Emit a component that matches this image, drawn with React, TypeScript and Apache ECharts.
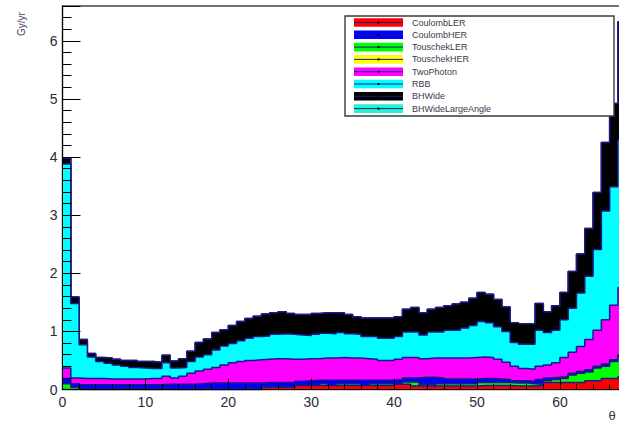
import React, { useEffect, useRef } from "react";
import * as echarts from "echarts";

// Bin edges in degrees (1-degree bins starting at 0)
const binEdges = [
  0, 1, 2, 3, 4, 5, 6, 7, 8, 9, 10, 11, 12, 13, 14, 15, 16, 17, 18, 19, 20, 21, 22, 23, 24, 25, 26, 27, 28, 29,
  30, 31, 32, 33, 34, 35, 36, 37, 38, 39, 40, 41, 42, 43, 44, 45, 46, 47, 48, 49, 50, 51, 52, 53, 54, 55, 56, 57,
  58, 59, 60, 61, 62, 63, 64, 65, 66, 67, 68,
];

const coulombLER = [
  0, 0, 0, 0, 0, 0, 0, 0, 0, 0, 0, 0, 0, 0, 0, 0, 0, 0, 0, 0, 0, 0, 0, 0, 0.04, 0.04, 0.04, 0.04, 0.07, 0.07,
  0.07, 0.07, 0.07, 0.07, 0.07, 0.07, 0.07, 0.07, 0.07, 0.07, 0.09, 0.09, 0.06, 0.06, 0.06, 0.06, 0.06, 0.06, 0.06, 0.06,
  0.07, 0.07, 0.07, 0.07, 0.06, 0.06, 0.06, 0.07, 0.12, 0.12, 0.12, 0.12, 0.12, 0.15, 0.15, 0.19, 0.19, 0.22,
];
const touschekLER = [
  0.1, 0.04, 0, 0, 0, 0, 0, 0, 0, 0, 0, 0, 0, 0, 0, 0, 0, 0, 0, 0, 0, 0, 0, 0, 0, 0, 0, 0, 0, 0,
  0, 0, 0, 0.03, 0.03, 0.03, 0, 0.03, 0.03, 0.03, 0, 0.04, 0.07, 0, 0, 0.04, 0.04, 0.04, 0.04, 0.04,
  0.05, 0.05, 0.05, 0.05, 0.05, 0.05, 0.04, 0.02, 0.03, 0.05, 0.07, 0.13, 0.16, 0.15, 0.22, 0.21, 0.29, 0.34,
];
const touschekHER = [
  0, 0, 0.02, 0, 0, 0, 0, 0.02, 0.02, 0.02, 0, 0, 0.02, 0, 0, 0, 0, 0.02, 0, 0, 0, 0, 0.02, 0, 0, 0, 0, 0, 0, 0,
  0, 0.03, 0, 0, 0, 0, 0, 0, 0, 0, 0, 0, 0, 0.03, 0.03, 0, 0, 0, 0, 0,
  0, 0, 0, 0, 0, 0, 0, 0, 0, 0, 0, 0, 0, 0, 0, 0, 0, 0,
];
const coulombHER = [
  0.09, 0.06, 0.06, 0.08, 0.08, 0.08, 0.08, 0.06, 0.06, 0.06, 0.08, 0.08, 0.07, 0.09, 0.09, 0.09, 0.1, 0.09, 0.11, 0.11,
  0.11, 0.11, 0.09, 0.11, 0.08, 0.08, 0.08, 0.08, 0.07, 0.08, 0.09, 0.06, 0.09, 0.06, 0.06, 0.06, 0.09, 0.06, 0.06, 0.06,
  0.08, 0.07, 0.07, 0.12, 0.12, 0.1, 0.08, 0.08, 0.08, 0.08, 0.07, 0.07, 0.06, 0.05, 0.04, 0.04, 0.04, 0.08, 0.05, 0.04,
  0.03, 0.03, 0.03, 0.04, 0.03, 0.04, 0.03, 0.04,
];
const twoPhoton = [
  0.18, 0.1, 0.11, 0.11, 0.11, 0.1, 0.1, 0.1, 0.1, 0.1, 0.11, 0.11, 0.14, 0.11, 0.14, 0.19, 0.22, 0.24, 0.27, 0.31,
  0.35, 0.37, 0.39, 0.4, 0.4, 0.41, 0.41, 0.4, 0.38, 0.38, 0.37, 0.38, 0.38, 0.39, 0.38, 0.38, 0.37, 0.36, 0.34, 0.34,
  0.35, 0.35, 0.35, 0.32, 0.33, 0.34, 0.36, 0.36, 0.36, 0.37, 0.37, 0.36, 0.34, 0.3, 0.25, 0.21, 0.21, 0.23, 0.22, 0.25,
  0.33, 0.36, 0.43, 0.52, 0.62, 0.76, 0.94, 1.15,
];
const rbb = [
  3.51, 1.28, 0.58, 0.37, 0.29, 0.27, 0.24, 0.22, 0.2, 0.19, 0.17, 0.17, 0.23, 0.17, 0.15, 0.2, 0.24, 0.25, 0.3, 0.33,
  0.33, 0.36, 0.38, 0.4, 0.4, 0.42, 0.43, 0.43, 0.42, 0.4, 0.42, 0.43, 0.42, 0.43, 0.42, 0.41, 0.38, 0.39, 0.38, 0.38,
  0.39, 0.44, 0.44, 0.41, 0.45, 0.45, 0.48, 0.48, 0.52, 0.55, 0.61, 0.6, 0.56, 0.53, 0.41, 0.42, 0.43, 0.62, 0.56, 0.56,
  0.65, 0.76, 0.92, 1.09, 1.39, 1.87, 2.04, 2.55,
];
const bhWide = [
  0.1, 0.11, 0.09, 0.06, 0.07, 0.09, 0.1, 0.1, 0.12, 0.11, 0.12, 0.11, 0.13, 0.12, 0.15, 0.18, 0.25, 0.27, 0.3, 0.28,
  0.31, 0.33, 0.34, 0.35, 0.38, 0.37, 0.38, 0.36, 0.35, 0.36, 0.36, 0.35, 0.36, 0.34, 0.33, 0.3, 0.32, 0.32, 0.35, 0.35,
  0.34, 0.39, 0.42, 0.38, 0.39, 0.42, 0.42, 0.45, 0.44, 0.47, 0.5, 0.49, 0.47, 0.42, 0.34, 0.35, 0.35, 0.46, 0.36, 0.42,
  0.47, 0.63, 0.67, 0.82, 0.98, 1.18, 1.43, 2.03,
];
const bhWideLargeAngle = [
  0, 0, 0, 0, 0, 0, 0, 0, 0, 0, 0, 0, 0, 0, 0, 0, 0, 0, 0, 0, 0, 0, 0, 0, 0, 0, 0, 0, 0, 0,
  0, 0, 0, 0, 0, 0, 0, 0, 0, 0, 0, 0, 0, 0, 0, 0, 0, 0, 0, 0,
  0, 0, 0, 0, 0, 0, 0, 0, 0, 0, 0, 0, 0, 0, 0, 0, 0, 0,
];

// Legend order (as in the reference)
const legendNames = ["CoulombLER", "CoulombHER", "TouschekLER", "TouschekHER", "TwoPhoton", "RBB", "BHWide", "BHWideLargeAngle"];
const legendColors = ["#ff0000", "#0000ff", "#00ff00", "#ffff00", "#ff00ff", "#00ffff", "#000000", "#22f5d2"];

// Stacking order, bottom to top
const stackNames = ["CoulombLER", "TouschekLER", "TouschekHER", "CoulombHER", "TwoPhoton", "RBB", "BHWide", "BHWideLargeAngle"];
const stackValues = [coulombLER, touschekLER, touschekHER, coulombHER, twoPhoton, rbb, bhWide, bhWideLargeAngle];

const OUTLINE = "#1a1a88";
const FONT = "Liberation Sans, Arial, sans-serif";

export default function App() {
  const ref = useRef<HTMLDivElement>(null);
  useEffect(() => {
    if (!ref.current) return;
    const chart = echarts.init(ref.current, null, { renderer: "svg" });
    const n = stackNames.length;
    const nBins = stackValues[0].length;
    // cumulative (stacked) totals, like a THStack
    const cumulative: number[][] = [];
    let running = new Array(nBins).fill(0);
    stackValues.forEach((vals) => {
      running = running.map((r, k) => Math.round((r + vals[k]) * 1000) / 1000);
      cumulative.push(running.slice());
    });

    // lower layers drawn over higher ones so every outline stays visible
    const series = stackNames.map((name, i) => {
      const cum = cumulative[i];
      const color = legendColors[legendNames.indexOf(name)];
      return {
        type: "line",
        name,
        step: "end",
        symbol: "none",
        showSymbol: false,
        silent: true,
        z: 2 + (n - i) * 0.5,
        data: binEdges.map((x, k) => [x, cum[Math.min(k, nBins - 1)]]),
        lineStyle: { color: OUTLINE, width: 1.5 },
        itemStyle: { color },
        areaStyle: { color, opacity: 1, origin: "start" },
      };
    });

    const ZL = 100;
    const legendItems: any[] = [
      {
        type: "rect",
        z: ZL,
        shape: { x: 345, y: 16, width: 269, height: 100 },
        style: { fill: "#ffffff", stroke: "#3a3a3a", lineWidth: 1.4 },
      },
    ];
    legendNames.forEach((name, i) => {
      const cy = 22.5 + 12.3 * i;
      legendItems.push({
        type: "rect",
        z: ZL + 1,
        shape: { x: 354, y: cy - 4.3, width: 49, height: 8.6 },
        style: { fill: legendColors[i] },
      });
      legendItems.push({
        type: "line",
        z: ZL + 2,
        shape: { x1: 354, y1: cy, x2: 403, y2: cy },
        style: { stroke: OUTLINE, lineWidth: 1 },
      });
      legendItems.push({
        type: "rect",
        z: ZL + 3,
        shape: { x: 377.5, y: cy - 1, width: 2, height: 2 },
        style: { fill: "#000000" },
      });
      legendItems.push({
        type: "text",
        z: ZL + 1,
        x: 412,
        y: cy,
        style: { text: name, fontSize: 9, fontFamily: FONT, fill: "#3a3a4a", textVerticalAlign: "middle", textAlign: "left" },
      });
    });

    chart.setOption({
      animation: false,
      backgroundColor: "#ffffff",
      textStyle: { fontFamily: FONT },
      grid: {
        left: 62.5,
        top: 6,
        width: 588.6,
        height: 383.5,
        outerBoundsMode: "none",
        containLabel: false,
        show: true,
        borderColor: "#444444",
        borderWidth: 1.5,
        backgroundColor: "transparent",
      },
      xAxis: {
        type: "value",
        min: 0,
        max: 71,
        interval: 10,
        z: 20,
        axisLine: { show: true, lineStyle: { color: "#000000", width: 1 } },
        axisTick: { show: true, inside: true, length: 11, lineStyle: { color: "#000000", width: 1 } },
        minorTick: { show: true, splitNumber: 5, length: 5.5, lineStyle: { color: "#000000", width: 1 } },
        axisLabel: {
          fontSize: 14,
          color: "#2a2a3a",
          margin: 5,
          fontFamily: FONT,
          formatter: (v: number) => (v % 10 === 0 && v < 70 ? String(v) : ""),
        },
        splitLine: { show: false },
      },
      yAxis: [
        {
          type: "value",
          min: 0,
          max: 6.6,
          interval: 1,
          position: "left",
          z: 20,
          axisLine: { show: true, lineStyle: { color: "#000000", width: 1 } },
          axisTick: { show: true, inside: true, length: 18, lineStyle: { color: "#000000", width: 1 } },
          axisLabel: {
            fontSize: 14,
            color: "#2a2a3a",
            margin: 5,
            fontFamily: FONT,
            formatter: (v: number) => (Number.isInteger(v) ? String(v) : ""),
          },
          splitLine: { show: false },
        },
        {
          type: "value",
          min: 0,
          max: 6.6,
          interval: 0.2,
          position: "left",
          z: 20,
          axisLine: { show: false },
          axisTick: { show: true, inside: true, length: 9, lineStyle: { color: "#000000", width: 1 } },
          axisLabel: { show: false },
          splitLine: { show: false },
        },
      ],
      series,
      graphic: [
        { type: "group", z: ZL, children: legendItems },
        {
          type: "text",
          z: ZL,
          x: 21,
          y: 24,
          rotation: Math.PI / 2,
          style: { text: "Gy/yr", fontSize: 10, fontFamily: FONT, fill: "#444455", textAlign: "center", textVerticalAlign: "middle" },
        },
        {
          type: "text",
          z: ZL,
          x: 612,
          y: 415,
          style: { text: "θ", fontSize: 13, fontFamily: FONT, fill: "#333344", textAlign: "center", textVerticalAlign: "middle" },
        },
      ],
    });
    return () => chart.dispose();
  }, []);
  return (
    <div
      ref={ref}
      style={{ position: "absolute", left: 0, top: 0, width: 619, height: 426, background: "#ffffff" }}
    />
  );
}
